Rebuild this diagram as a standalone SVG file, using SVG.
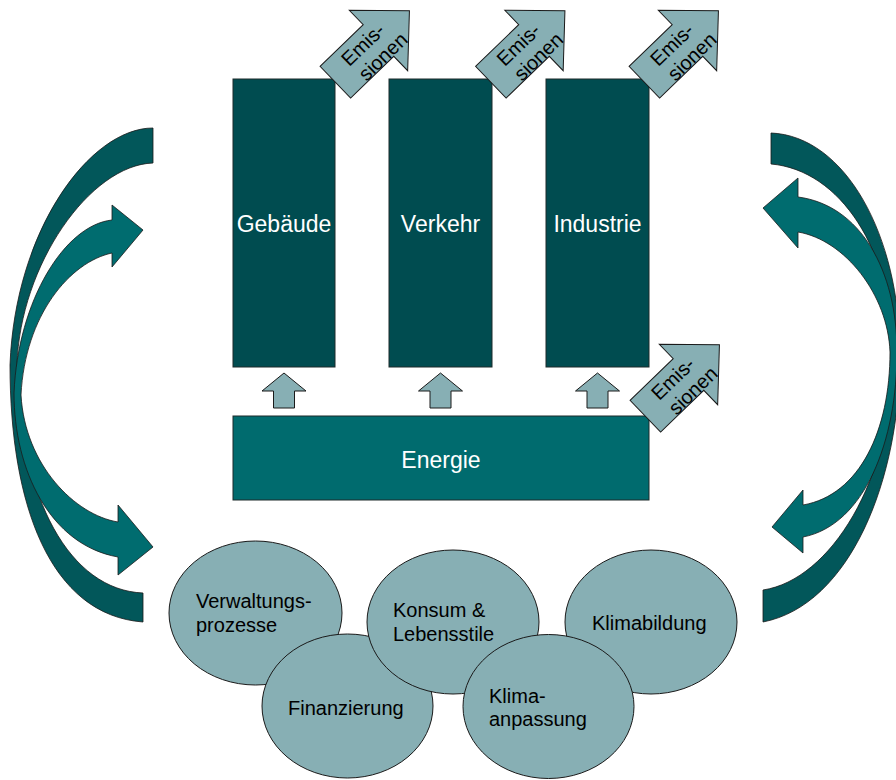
<svg xmlns="http://www.w3.org/2000/svg" xmlns:xlink="http://www.w3.org/1999/xlink" width="896" height="780" viewBox="0 0 896 780">
<style>
  text { font-family: "Liberation Sans", Arial, sans-serif; }
  .sector { fill: #004C50; stroke: #1c2a2a; stroke-width: 1; }
  .energy { fill: #006B6E; stroke: #1c2a2a; stroke-width: 1; }
  .wtxt { fill: #ffffff; font-size: 23px; text-anchor: middle; }
  .oval { fill: #87AFB4; stroke: #1a1a1a; stroke-width: 1; }
  .otxt { fill: #000000; font-size: 20px; }
  .pale { fill: #87AFB4; stroke: #1a1a1a; stroke-width: 1; }
  .etxt { fill: #000000; font-size: 20px; text-anchor: middle; }
  .back { fill: #02575A; stroke: #1a1a1a; stroke-width: 0.8; }
  .front { fill: #006C6F; stroke: #1a1a1a; stroke-width: 0.8; }
</style>
<defs>
  <path id="emi" d="M-60,-22 L0,-22 L0,-42 L43,0 L0,42 L0,22 L-60,22 Z"/>
  <path id="up" d="M0,373 L22,391 L10.5,391 L10.5,408 L-10.5,408 L-10.5,391 L-22,391 Z"/>
</defs>
<rect width="896" height="780" fill="#ffffff"/>

<g id="connectors">
  <!-- left curved arrows -->
  <path class="back" d="M153,128 C90,128 15,230 10,365 C10,505 50,615 143,622 L143,593 C70,590 20,500 17,365 C20,265 90,165 153,163 Z"/>
  <path class="front" d="M112,220 L112,205 L143,230 L112,267 L112,253 C70,262 25,315 21,395 C25,465 75,515 118,522 L118,505 L153,547 L118,575 L118,557 C50,545 14,470 14,393 C18,300 65,225 112,220 Z"/>
  <!-- right curved arrows -->
  <path class="back" d="M771,133 C845,136 900,235 900,355 C900,480 850,605 763,622 L763,590 C830,580 893,480 893,355 C893,250 840,170 771,164 Z"/>
  <path class="front" d="M798,197 L798,178 L763,208 L798,248 L798,232 C845,240 888,295 890,352 C890,430 860,495 803,505 L803,490 L772,527 L803,553 L803,537 C865,525 897,440 897,352 C897,270 860,205 798,197 Z"/>
  <!-- energy to sectors -->
  <use href="#up" class="pale" transform="translate(284,0)"/>
  <use href="#up" class="pale" transform="translate(440.5,0)"/>
  <use href="#up" class="pale" transform="translate(597.5,0)"/>
</g>

<g id="gebaeude">
  <rect class="sector" x="233" y="79" width="102" height="288"/>
  <text class="wtxt" x="284" y="232">Gebäude</text>
</g>
<g id="verkehr">
  <rect class="sector" x="389" y="79" width="103" height="288"/>
  <text class="wtxt" x="440.5" y="232">Verkehr</text>
</g>
<g id="industrie">
  <rect class="sector" x="546" y="79" width="103" height="288"/>
  <text class="wtxt" x="597.5" y="232">Industrie</text>
</g>
<g id="energie">
  <rect class="energy" x="233" y="416" width="416" height="84"/>
  <text class="wtxt" x="441" y="468">Energie</text>
</g>

<g id="emission-gebaeude" transform="translate(378.5,40.5) rotate(-44)">
  <use href="#emi" class="pale"/>
  <text class="etxt" x="-14" y="-1">Emis-</text>
  <text class="etxt" x="-8" y="21.5">sionen</text>
</g>
<g id="emission-verkehr" transform="translate(534,40.5) rotate(-44)">
  <use href="#emi" class="pale"/>
  <text class="etxt" x="-14" y="-1">Emis-</text>
  <text class="etxt" x="-8" y="21.5">sionen</text>
</g>
<g id="emission-industrie" transform="translate(687.5,40.5) rotate(-44)">
  <use href="#emi" class="pale"/>
  <text class="etxt" x="-14" y="-1">Emis-</text>
  <text class="etxt" x="-8" y="21.5">sionen</text>
</g>
<g id="emission-energie" transform="translate(688.5,374.5) rotate(-44)">
  <use href="#emi" class="pale"/>
  <text class="etxt" x="-14" y="-1">Emis-</text>
  <text class="etxt" x="-8" y="21.5">sionen</text>
</g>

<g id="verwaltungsprozesse">
  <ellipse class="oval" cx="255.5" cy="613" rx="86.5" ry="72"/>
  <text class="otxt" x="196" y="608">Verwaltungs-</text>
  <text class="otxt" x="196" y="632">prozesse</text>
</g>
<g id="finanzierung">
  <ellipse class="oval" cx="347.5" cy="706" rx="85.5" ry="72"/>
  <text class="otxt" x="288" y="715">Finanzierung</text>
</g>
<g id="konsum">
  <ellipse class="oval" cx="453" cy="622" rx="86" ry="72"/>
  <text class="otxt" x="393" y="617">Konsum &amp;</text>
  <text class="otxt" x="393" y="641">Lebensstile</text>
</g>
<g id="klimabildung">
  <ellipse class="oval" cx="651" cy="622" rx="86" ry="72"/>
  <text class="otxt" x="592" y="630">Klimabildung</text>
</g>
<g id="klimaanpassung">
  <ellipse class="oval" cx="548.5" cy="706.5" rx="85.5" ry="72"/>
  <text class="otxt" x="489" y="703">Klima-</text>
  <text class="otxt" x="489" y="726">anpassung</text>
</g>
</svg>
